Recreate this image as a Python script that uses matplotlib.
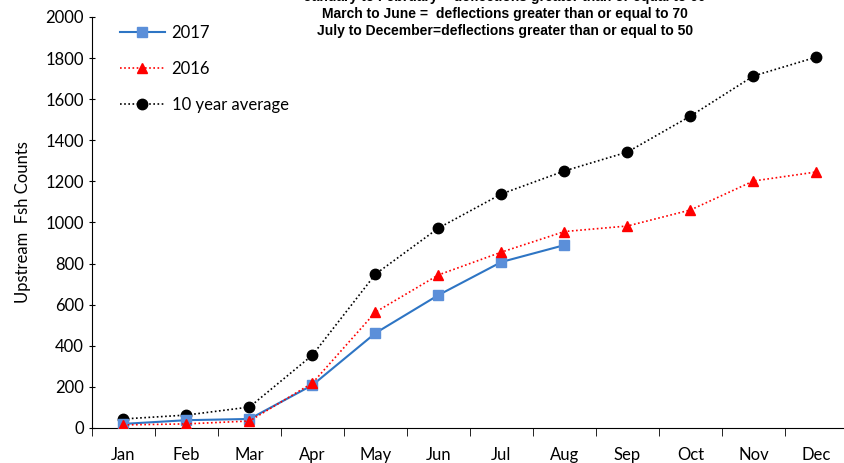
import numpy as np
import matplotlib.pyplot as plt

plt.rcParams['font.family'] = ['Lato', 'DejaVu Sans']

months = ['Jan', 'Feb', 'Mar', 'Apr', 'May', 'Jun', 'Jul', 'Aug', 'Sep', 'Oct', 'Nov', 'Dec']
y2017 = [20, 38, 44, 209, 462, 647, 808, 890]
y2016 = [15, 20, 34, 219, 564, 745, 856, 956, 983, 1061, 1202, 1246]
avg10 = [44, 63, 102, 355, 749, 973, 1139, 1251, 1343, 1518, 1713, 1805]
notes = ['January to February = deflections greater than or equal to 60',
         'March to June =  deflections greater than or equal to 70',
         'July to December=deflections greater than or equal to 50']

fig = plt.figure(figsize=(8.45, 4.63), dpi=100)
ax = fig.add_axes([92/845, 35/463, 756/845, 411/463])

x = np.arange(len(months))
ax.plot(x[:len(y2017)], y2017, color='#2E75C4', linewidth=1.5, marker='s', markersize=7,
        markerfacecolor='#5B8FD9', markeredgecolor='#5B8FD9', label='2017', zorder=3)
ax.plot(x, y2016, color='red', linewidth=1.2, linestyle=(0, (1, 1.5)), marker='^', markersize=7,
        markerfacecolor='red', markeredgecolor='red', label='2016', zorder=4)
ax.plot(x, avg10, color='black', linewidth=1.2, linestyle=(0, (1, 1.5)), marker='o', markersize=7.5,
        markerfacecolor='black', markeredgecolor='black', label='10 year average', zorder=2)

ax.set_xlim(-0.5, 11.5)
ax.set_ylim(0, 2000)
ax.set_yticks(range(0, 2001, 200))
ax.set_xticks(x)
ax.set_xticklabels(months)
ax.set_xticks(np.arange(-0.5, 12, 1), minor=True)
ax.tick_params(axis='x', which='major', length=0, pad=14, labelsize=12)
ax.tick_params(axis='x', which='minor', length=6, direction='out')
ax.tick_params(axis='y', length=5, direction='inout', labelsize=12)
ax.spines['top'].set_visible(False)
ax.spines['right'].set_visible(False)
ax.set_ylabel('Upstream  Fsh Counts', fontsize=12, labelpad=10)

ax.legend(loc='upper left', bbox_to_anchor=(0.017, 1.018), frameon=False, fontsize=12,
          handlelength=2.7, labelspacing=1.22, handletextpad=0.4)

# notes at top (first line runs off the top edge, as in the original)
for i, s in enumerate(notes):
    fig.text(0.598, 1 - (-3 + 17*i)/463, s, ha='center', va='center', fontsize=10,
             fontweight='bold', family='Liberation Sans')

fig.savefig('out.png', dpi=100)
